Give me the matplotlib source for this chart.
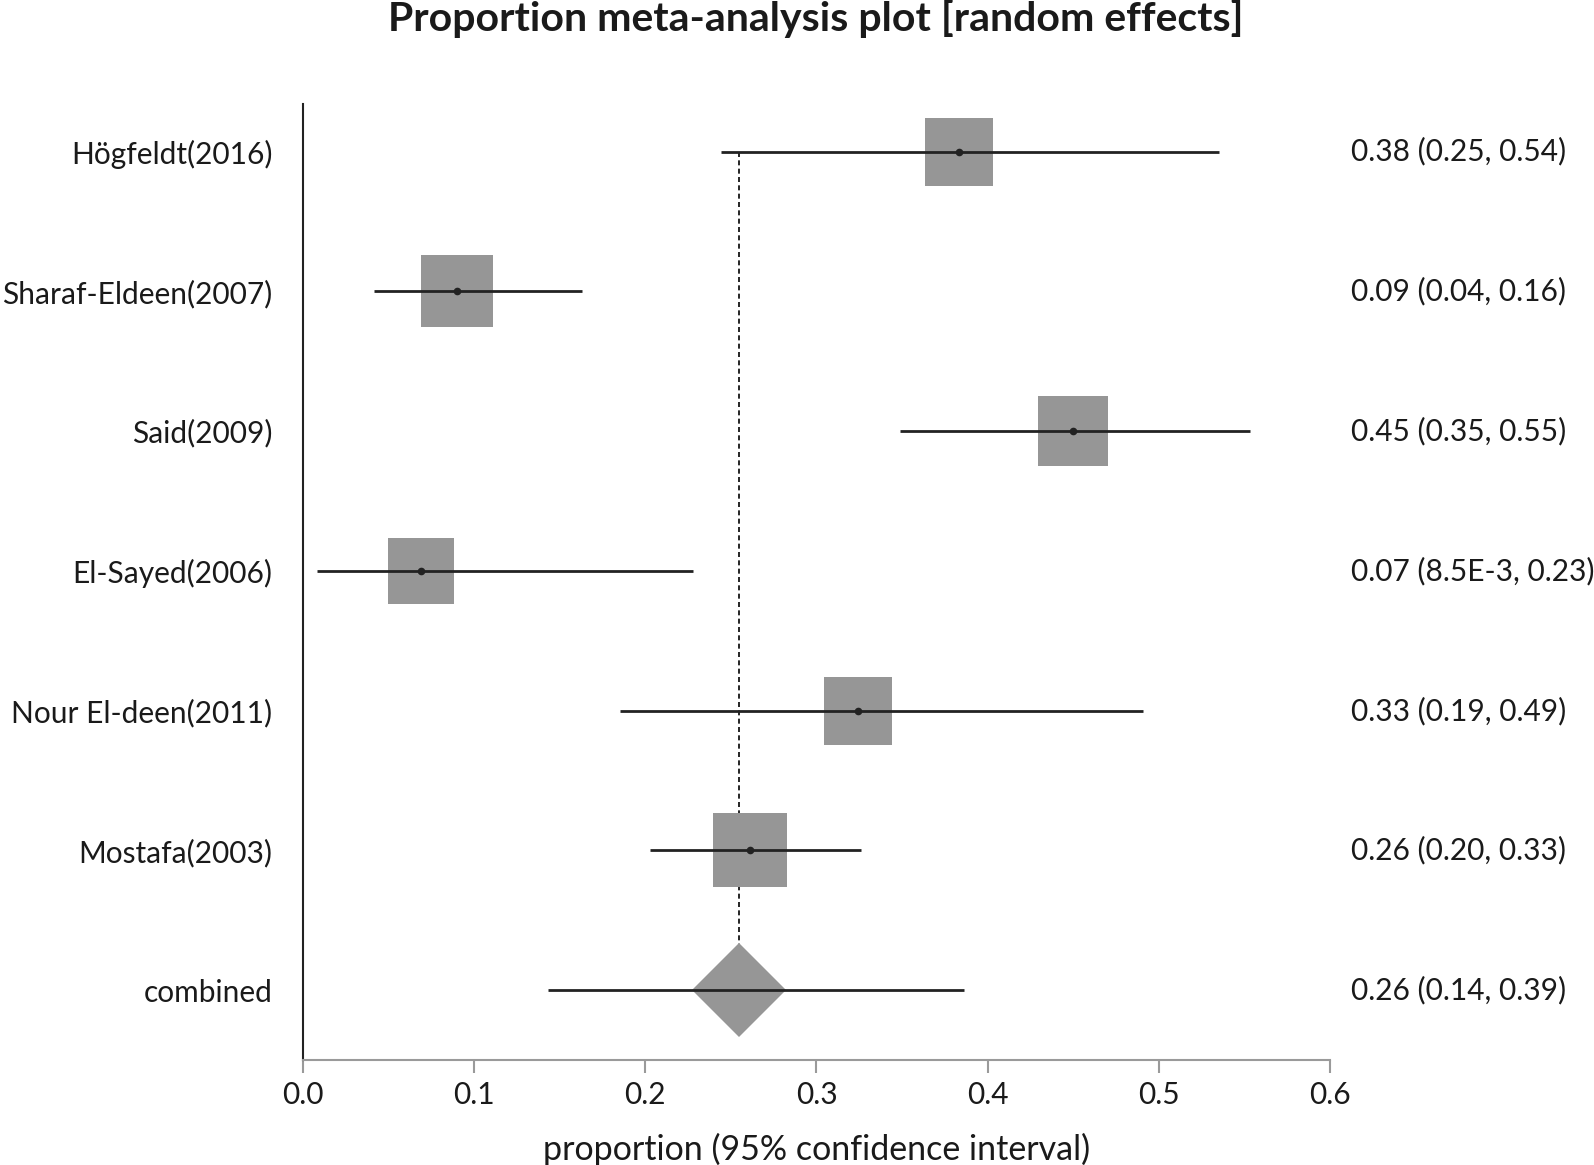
import matplotlib

matplotlib.use("Agg")

import matplotlib.pyplot as plt

TEXT = "#1A1A1A"
BOX = "#969696"
AXIS_GREY = "#9A9A9A"

plt.rcParams.update(
    {
        "font.family": ["Lato", "DejaVu Sans"],
        "font.size": 21.5,
        "text.color": TEXT,
        "axes.labelcolor": TEXT,
        "xtick.color": TEXT,
        "ytick.color": TEXT,
    }
)

# data
studies = [
    "Högfeldt(2016)",
    "Sharaf-Eldeen(2007)",
    "Said(2009)",
    "El-Sayed(2006)",
    "Nour El-deen(2011)",
    "Mostafa(2003)",
    "combined",
]
estimate = [0.383, 0.090, 0.450, 0.069, 0.324, 0.261, 0.255]
lower = [0.244, 0.0416, 0.349, 0.0083, 0.185, 0.203, 0.143]
upper = [0.535, 0.163, 0.553, 0.228, 0.491, 0.326, 0.386]
weights = [16.2, 17.5, 17.2, 14.9, 15.9, 18.3]  # % (box area)
ci_text = [
    "0.38 (0.25, 0.54)",
    "0.09 (0.04, 0.16)",
    "0.45 (0.35, 0.55)",
    "0.07 (8.5E-3, 0.23)",
    "0.33 (0.19, 0.49)",
    "0.26 (0.20, 0.33)",
    "0.26 (0.14, 0.39)",
]
x_ticks = [0.0, 0.1, 0.2, 0.3, 0.4, 0.5, 0.6]

fig = plt.figure(figsize=(15.94, 11.65), dpi=100)
ax = fig.add_axes([0.190, 0.0901, 0.6444, 0.8206])

rows = list(range(len(studies)))
pooled_row = rows[-1]

# reference line at the pooled estimate (diamond covers its lower end)
ax.plot([estimate[-1], estimate[-1]], [rows[0], pooled_row], color="black",
        lw=1.2, dashes=(3, 2), zorder=1)

# study rows
for i in rows[:-1]:
    ax.plot([lower[i], upper[i]], [i, i], color="#222222", lw=2.0, zorder=3,
            solid_capstyle="butt")
    side = 12.3 * weights[i] ** 0.5
    ax.plot(estimate[i], i, marker="s", ms=side, color=BOX, mew=0, zorder=2)
    ax.plot(estimate[i], i, marker="o", ms=5.5, color="#222222", mew=0, zorder=4)

# combined
ax.plot(estimate[-1], pooled_row, marker="D", ms=48, color=BOX, mew=0, zorder=2)
ax.plot([lower[-1], upper[-1]], [pooled_row, pooled_row], color="#222222",
        lw=2.0, zorder=3, solid_capstyle="butt")

for i, txt in enumerate(ci_text):
    ax.text(1.0205, i, txt, transform=ax.get_yaxis_transform(), ha="left",
            va="center", fontsize=21.5, clip_on=False)

ax.set_xlim(0, 0.6)
ax.set_ylim(6.5, -0.34)
ax.set_xticks(x_ticks)
ax.set_xticklabels([f"{t:.1f}" for t in x_ticks])
ax.set_yticks(rows)
ax.set_yticklabels(studies)

ax.tick_params(axis="y", length=0, pad=22, labelsize=21.5)
ax.tick_params(axis="x", length=9, width=1.5, color=AXIS_GREY, pad=6,
               labelsize=21.5)

for side in ("top", "right"):
    ax.spines[side].set_visible(False)
ax.spines["left"].set_color("#222222")
ax.spines["left"].set_linewidth(1.5)
ax.spines["bottom"].set_color(AXIS_GREY)
ax.spines["bottom"].set_linewidth(1.5)

ax.set_xlabel("proportion (95% confidence interval)", fontsize=24.5, labelpad=17)
fig.text(0.512, 0.984, "Proportion meta-analysis plot [random effects]",
         ha="center", va="center", fontsize=29.5, fontweight="bold")

fig.savefig("out.png", dpi=100)
